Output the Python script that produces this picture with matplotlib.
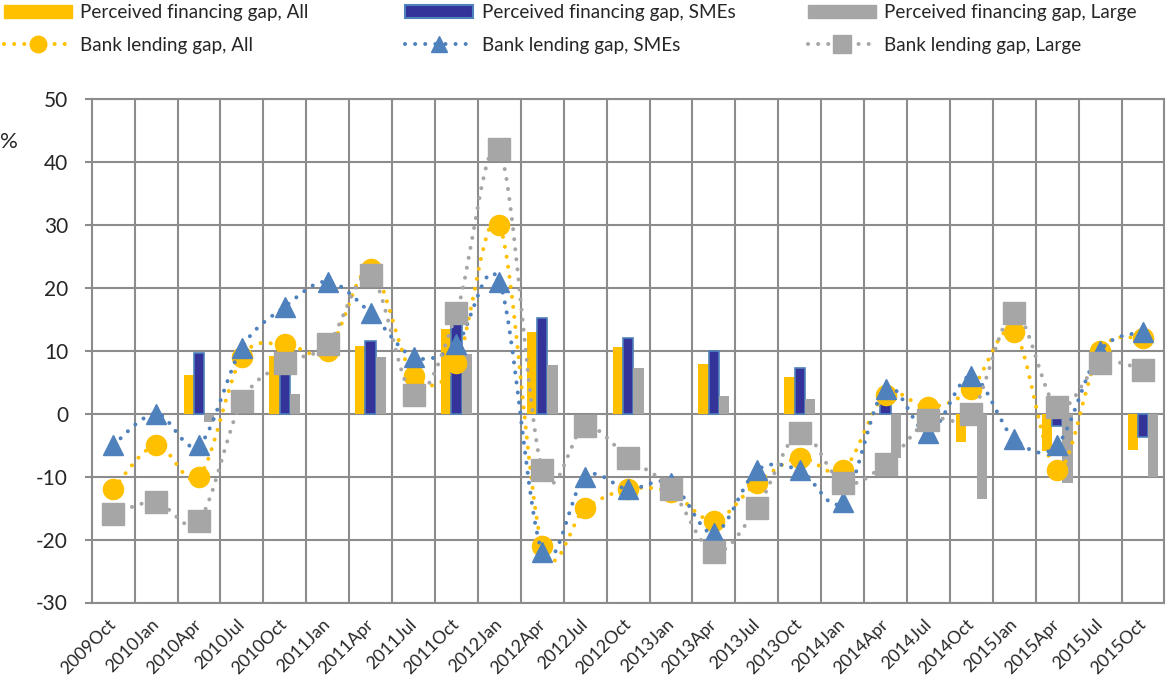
import numpy as np
import matplotlib
matplotlib.use("Agg")
import matplotlib.pyplot as plt
from matplotlib.path import Path
from matplotlib.patches import PathPatch, Patch
from matplotlib.lines import Line2D

plt.rcParams['font.family'] = ['Lato', 'DejaVu Sans']

categories = ["2009Oct", "2010Jan", "2010Apr", "2010Jul", "2010Oct", "2011Jan", "2011Apr",
              "2011Jul", "2011Oct", "2012Jan", "2012Apr", "2012Jul", "2012Oct", "2013Jan",
              "2013Apr", "2013Jul", "2013Oct", "2014Jan", "2014Apr", "2014Jul", "2014Oct",
              "2015Jan", "2015Apr", "2015Jul", "2015Oct"]

nan = np.nan
# Perceived financing gap (semi-annual survey)
pfg_all = [nan, nan, 6.2, nan, 9.1, nan, 10.8, nan, 13.5, nan, 12.9, nan, 10.6, nan,
           7.9, nan, 5.8, nan, 0.0, nan, -4.5, nan, -6.0, nan, -5.7]
pfg_sme = [nan, nan, 9.7, nan, 10.0, nan, 11.6, nan, 14.5, nan, 15.2, nan, 12.1, nan,
           9.9, nan, 7.2, nan, 2.0, nan, -1.0, nan, -2.0, nan, -3.7]
pfg_large = [nan, nan, -1.4, nan, 3.1, nan, 9.0, nan, 9.5, nan, 7.8, nan, 7.3, nan,
             2.8, nan, 2.4, nan, -7.0, nan, -13.5, nan, -11.0, nan, -10.0]

# Bank lending gap (quarterly)
blg_all = [-12, -5, -10, 9, 11, 10, 23, 6, 8, 30, -21, -15, -12, -12.5, -17, -11, -7, -9,
           3, 1, 4, 13, -9, 10, 12]
blg_sme = [-5, 0, -5, 10.5, 17, 21, 16, 9, 11, 21, -22, -10, -12, -11, -19, -9, -9, -14,
           4, -3, 6, -4, -5, 10, 13]
blg_large = [-16, -14, -17, 2, 8, 11, 22, 3, 16, 42, -9, -2, -7, -12, -22, -15, -3, -11,
             -8, -1, 0, 16, 1, 8, 7]

yticks = [-30, -20, -10, 0, 10, 20, 30, 40, 50]

YELLOW = '#FFC000'
NAVY = '#333399'
NAVY_EDGE = '#4F81BD'
GREY = '#A6A6A6'
BLUE = '#4F81BD'
GRID = '#8C8C8C'
TEXT = '#262626'

fig = plt.figure(figsize=(11.66, 6.8), dpi=100)
ax = fig.add_axes([91.7 / 1166, 1 - 602.5 / 680, (1164.5 - 91.7) / 1166, (602.5 - 99) / 680])

x = np.arange(len(categories))
bw = 0.24
ax.bar(x - bw, pfg_all, bw, color=YELLOW, zorder=2)
ax.bar(x, pfg_sme, bw, color=NAVY, edgecolor=NAVY_EDGE, linewidth=1.2, zorder=2)
ax.bar(x + bw, pfg_large, bw, color=GREY, zorder=2)


def smooth_path(xs, ys):
    pts = np.column_stack([xs, ys]).astype(float)
    n = len(pts)
    verts = [pts[0]]
    codes = [Path.MOVETO]
    for i in range(n - 1):
        p0 = pts[i - 1] if i > 0 else pts[i]
        p1 = pts[i]
        p2 = pts[i + 1]
        p3 = pts[i + 2] if i + 2 < n else pts[i + 1]
        c1 = p1 + (p2 - p0) / 6.0
        c2 = p2 - (p3 - p1) / 6.0
        verts += [c1, c2, p2]
        codes += [Path.CURVE4] * 3
    return Path(verts, codes)


dot_style = (0, (0.01, 2.5))
series = [
    (blg_all, YELLOW, 'o', 14.5),
    (blg_sme, BLUE, '^', 14.5),
    (blg_large, GREY, 's', 16),
]
z = 3
for vals, col, mk, ms in series:
    pp = PathPatch(smooth_path(x, vals), fill=False, edgecolor=col, linewidth=2.9,
                   linestyle=dot_style, capstyle='round', zorder=z)
    ax.add_patch(pp)
    ax.plot(x, vals, linestyle='none', marker=mk, markersize=ms, color=col,
            markeredgecolor=col, zorder=z + 0.5)
    z += 1

ax.set_xlim(-0.5, len(categories) - 0.5)
ax.set_ylim(-30, 50)
ax.set_yticks(yticks)
ax.set_yticklabels([str(v) for v in yticks], fontsize=15, color=TEXT)
ax.set_xticks(x)
ax.set_xticklabels(categories, rotation=45, ha='right', va='center',
                   rotation_mode='anchor', fontsize=12.8, color=TEXT)
ax.set_xticks(x[:-1] + 0.5, minor=True)
ax.tick_params(axis='x', which='both', length=0, pad=14)
ax.tick_params(axis='y', which='major', length=5, width=1.5, color=GRID, pad=12)
ax.grid(axis='y', which='major', color=GRID, linewidth=1.5, zorder=0)
ax.grid(axis='x', which='minor', color=GRID, linewidth=1.5, zorder=0)
ax.grid(axis='x', which='major', visible=False)
ax.set_axisbelow(True)
for s in ax.spines.values():
    s.set_color(GRID)
    s.set_linewidth(1.5)

fig.text(0 / 1166, 1 - 142 / 680, '%', fontsize=16, color=TEXT, ha='left', va='center')

# Legend: three columns placed like the reference
def line_handle(col, mk, ms):
    return Line2D([0], [0], color=col, linewidth=2.9, linestyle=dot_style,
                  dash_capstyle='round', marker=mk, markersize=ms * 0.85,
                  markeredgecolor=col)

columns = [
    (4, [Patch(facecolor=YELLOW, edgecolor=YELLOW), line_handle(YELLOW, 'o', 14)],
     ["Perceived financing gap, All", "Bank lending gap, All"]),
    (405, [Patch(facecolor=NAVY, edgecolor=NAVY_EDGE, linewidth=1.5), line_handle(BLUE, '^', 14)],
     ["Perceived financing gap, SMEs", "Bank lending gap, SMEs"]),
    (808, [Patch(facecolor=GREY, edgecolor=GREY), line_handle(GREY, 's', 15)],
     ["Perceived financing gap, Large", "Bank lending gap, Large"]),
]
for xpx, hs, ls in columns:
    fig.legend(hs, ls, loc='upper left', bbox_to_anchor=(xpx / 1166, 1 - 4 / 680),
               bbox_transform=fig.transFigure, frameon=False, fontsize=13.6,
               borderaxespad=0, borderpad=0, handlelength=3.6, handletextpad=0.45,
               labelspacing=0.85, numpoints=1, labelcolor=TEXT)

fig.savefig('out.png', dpi=100)
